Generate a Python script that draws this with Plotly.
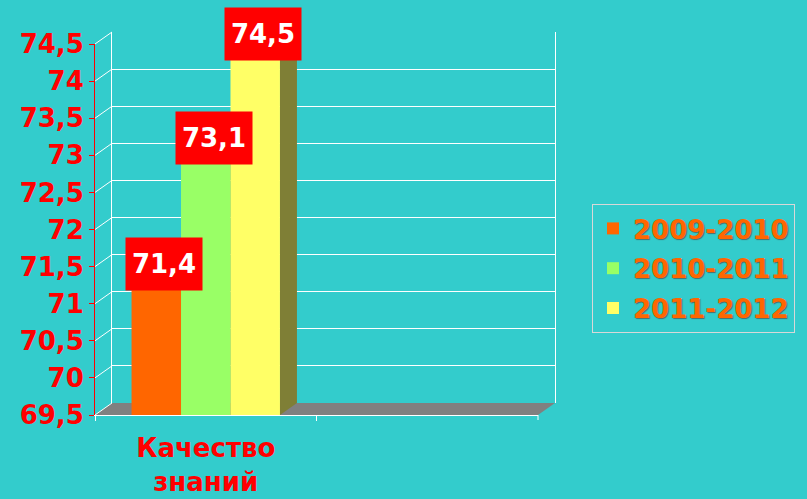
import plotly.graph_objects as go

# data
seasons = ["2009-2010", "2010-2011", "2011-2012"]
values = [71.4, 73.1, 74.5]
category = "Качество знаний"
y_ticks = [69.5, 70, 70.5, 71, 71.5, 72, 72.5, 73, 73.5, 74, 74.5]
y_ticktext = ["69,5", "70", "70,5", "71", "71,5", "72", "72,5", "73", "73,5", "74", "74,5"]

bar_colors = ["#FF6600", "#99FF66", "#FFFF66"]
side_colors = ["#803300", "#4D8033", "#7F7F36"]
top_colors = ["#FF8533", "#B8FF94", "#FFFF99"]

W, H = 807, 499
FX0, FX1 = 95, 538      # front plane, px
FY0, FY1 = 415, 44
DX, DY = 17, 12         # depth offset, px
YMIN, YMAX = y_ticks[0], y_ticks[-1]
XMIN, XMAX = -0.5, 1.5
BARGAP = 0.33
FONT = "DejaVu Sans"


def px(x):
    return x / W


def py(y):
    return 1 - y / H


def yfront(v):
    return FY0 - (v - YMIN) * (FY0 - FY1) / (YMAX - YMIN)


xu = (XMAX - XMIN) / (FX1 - FX0) * DX   # depth in data units
yu = (YMAX - YMIN) / (FY0 - FY1) * DY

fig = go.Figure()

# back wall subplot (only gridlines)
fig.add_trace(go.Scatter(x=[None], y=[None], xaxis="x", yaxis="y",
                         showlegend=False, hoverinfo="skip"))

for name, v, c in zip(seasons, values, bar_colors):
    fig.add_trace(go.Bar(x=[category], y=[v], name=name, xaxis="x2", yaxis="y2",
                         legendgroup=name,
                         marker=dict(color=c, line=dict(width=0))))

shapes = []
# floor
shapes.append(dict(type="path", xref="paper", yref="paper", layer="below",
                   path=f"M {px(FX0)},{py(FY0)} L {px(FX1)},{py(FY0)} "
                        f"L {px(FX1 + DX)},{py(FY0 - DY)} L {px(FX0 + DX)},{py(FY0 - DY)} Z",
                   fillcolor="#808080", line=dict(width=0)))
# left wall lines
for v in y_ticks:
    yf = yfront(v)
    shapes.append(dict(type="line", xref="paper", yref="paper", layer="below",
                       x0=px(FX0), y0=py(yf), x1=px(FX0 + DX), y1=py(yf - DY),
                       line=dict(color="white", width=1)))
# tick at the right end of the category axis
shapes.append(dict(type="line", xref="paper", yref="paper",
                   x0=px(FX1), y0=py(FY0), x1=px(FX1), y1=py(FY0 + 5),
                   line=dict(color="white", width=1)))

# 3d faces of the bars
w = (1 - BARGAP) / len(values)
centers = [(i - (len(values) - 1) / 2) * w for i in range(len(values))]
for c, v, sc, tc in zip(centers, values, side_colors, top_colors):
    l, r = c - w / 2, c + w / 2
    shapes.append(dict(type="path", xref="x2", yref="y2", layer="below",
                       path=f"M {r},{YMIN} L {r},{v} L {r + xu},{v + yu} L {r + xu},{YMIN + yu} Z",
                       fillcolor=sc, line=dict(width=0)))
    shapes.append(dict(type="path", xref="x2", yref="y2", layer="below",
                       path=f"M {l},{v} L {r},{v} L {r + xu},{v + yu} L {l + xu},{v + yu} Z",
                       fillcolor=tc, line=dict(width=0)))

annotations = []
for c, v in zip(centers, values):
    annotations.append(dict(x=c, y=v, xref="x2", yref="y2", showarrow=False,
                            text=f"{v:.1f}".replace(".", ","),
                            font=dict(family=FONT, size=26, color="white", weight="bold"),
                            bgcolor="#FF0000", borderpad=6, width=64, height=40,
                            xshift=8, yshift=10))

fig.update_layout(
    width=W, height=H,
    margin=dict(l=0, r=0, t=0, b=0),
    paper_bgcolor="#33CCCC", plot_bgcolor="rgba(0,0,0,0)",
    barmode="group", bargap=BARGAP, bargroupgap=0,
    shapes=shapes, annotations=annotations,
    showlegend=True,
    legend=dict(x=px(592), y=py(204), xanchor="left", yanchor="top",
                traceorder="grouped", tracegroupgap=3,
                bgcolor="rgba(0,0,0,0)", bordercolor="#D8D8D8", borderwidth=1,
                font=dict(family=FONT, size=26, color="#FF6600", weight="bold",
                          shadow="1px 1px 1px #4D6B6B")),
    xaxis=dict(domain=[px(FX0 + DX), px(FX1 + DX)], range=[XMIN, XMAX], anchor="y",
               automargin=False,
               showgrid=False, zeroline=False, showticklabels=False, showline=False),
    yaxis=dict(domain=[py(FY0 - DY), py(FY1 - DY)], range=[YMIN, YMAX], anchor="x",
               automargin=False,
               tickvals=y_ticks, showticklabels=False, showgrid=True,
               gridcolor="white", gridwidth=1, zeroline=False,
               showline=True, linecolor="white", mirror=True),
    xaxis2=dict(domain=[px(FX0), px(FX1)], range=[XMIN, XMAX], anchor="y2", type="category",
                automargin=False,
                showgrid=False, zeroline=False, showline=True, linecolor="white",
                ticks="outside", tickson="boundaries", ticklen=5, tickcolor="white",
                ticktext=[category.replace(" ", "<br>")], tickvals=[category],
                ticklabelstandoff=10,
                tickfont=dict(family=FONT, size=26, color="#FF0000", weight="bold")),
    yaxis2=dict(domain=[py(FY0), py(FY1)], range=[YMIN, YMAX], anchor="x2",
                automargin=False,
                tickvals=y_ticks, ticktext=y_ticktext, showgrid=False, zeroline=False,
                showline=True, linecolor="#FF0000", ticks="outside", ticklen=5,
                tickcolor="#FF0000",
                tickfont=dict(family=FONT, size=26, color="#FF0000", weight="bold")),
)

fig.write_html("out.html", config={"displayModeBar": False},
               post_script="document.body.style.margin='0';"
                           "document.body.style.background='#33CCCC';")
